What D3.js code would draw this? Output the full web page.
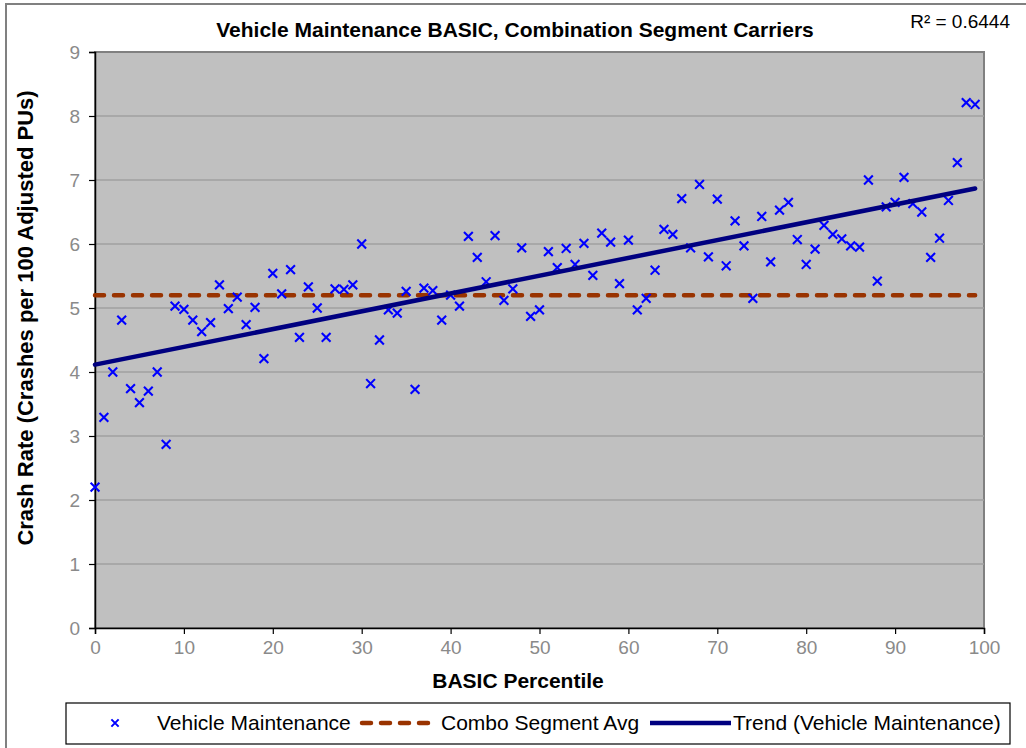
<!DOCTYPE html>
<html>
<head>
<meta charset="utf-8">
<script src="https://cdn.jsdelivr.net/npm/d3@7"></script>
<style>
  body { margin: 0; background: #fff; }
  svg { display: block; font-family: "Liberation Sans", Arial, sans-serif; }
</style>
</head>
<body>
<div id="chart"></div>
<script>
var percentiles = d3.range(0, 100);
var crashRates = [
  2.20, 3.29, 4.00, 4.81, 3.74, 3.52, 3.70, 4.00, 2.87, 5.03,
  4.98, 4.81, 4.63, 4.77, 5.36, 4.99, 5.17, 4.74, 5.01, 4.21,
  5.54, 5.22, 5.60, 4.54, 5.33, 5.00, 4.54, 5.30, 5.29, 5.36,
  6.00, 3.82, 4.50, 4.97, 4.92, 5.26, 3.73, 5.31, 5.27, 4.81,
  5.20, 5.03, 6.12, 5.79, 5.41, 6.13, 5.12, 5.30, 5.94, 4.87,
  4.97, 5.88, 5.63, 5.93, 5.68, 6.01, 5.51, 6.17, 6.03, 5.38,
  6.06, 4.97, 5.15, 5.59, 6.23, 6.15, 6.71, 5.94, 6.93, 5.80,
  6.70, 5.66, 6.36, 5.97, 5.15, 6.43, 5.72, 6.53, 6.65, 6.07,
  5.68, 5.92, 6.29, 6.15, 6.08, 5.97, 5.95, 7.00, 5.42, 6.58,
  6.65, 7.04, 6.63, 6.50, 5.79, 6.09, 6.68, 7.27, 8.21, 8.18
];
var comboSegmentAvg = 5.2;
var rSquared = 0.6444;
var xTicks = [0, 10, 20, 30, 40, 50, 60, 70, 80, 90, 100];
var yTicks = [0, 1, 2, 3, 4, 5, 6, 7, 8, 9];
var legendLabels = ["Vehicle Maintenance", "Combo Segment Avg", "Trend (Vehicle Maintenance)"];

var width = 1026, height = 748;
var plot = {left: 95, top: 52, right: 984, bottom: 628};

var points = percentiles.map(function(p, i) { return {x: p, y: crashRates[i]}; });

// least squares trend line
var mx = d3.mean(points, function(d) { return d.x; });
var my = d3.mean(points, function(d) { return d.y; });
var sxy = d3.sum(points, function(d) { return (d.x - mx) * (d.y - my); });
var sxx = d3.sum(points, function(d) { return (d.x - mx) * (d.x - mx); });
var slope = sxy / sxx, intercept = my - slope * mx;
var xMin = d3.min(percentiles), xMax = d3.max(percentiles);
var trend = [{x: xMin, y: intercept + slope * xMin}, {x: xMax, y: intercept + slope * xMax}];
var avgLine = [{x: xMin, y: comboSegmentAvg}, {x: xMax, y: comboSegmentAvg}];

var x = d3.scaleLinear().domain([0, 100]).range([plot.left, plot.right]);
var y = d3.scaleLinear().domain([0, 9]).range([plot.bottom, plot.top]);

var svg = d3.select("#chart").append("svg")
    .attr("width", width)
    .attr("height", height);

// outer chart border
svg.append("rect")
    .attr("x", 6).attr("y", 4)
    .attr("width", width + 10).attr("height", height + 10)
    .attr("fill", "#fff")
    .attr("stroke", "#808080")
    .attr("stroke-width", 2);

// plot background
svg.append("rect")
    .attr("x", plot.left).attr("y", plot.top)
    .attr("width", plot.right - plot.left).attr("height", plot.bottom - plot.top)
    .attr("fill", "#c0c0c0")
    .attr("stroke", "#808080")
    .attr("stroke-width", 2);

// gridlines
svg.append("g").selectAll("line")
    .data(yTicks.filter(function(t) { return t > 0 && t < 9; }))
    .enter().append("line")
    .attr("x1", plot.left).attr("x2", plot.right)
    .attr("y1", function(d) { return y(d); })
    .attr("y2", function(d) { return y(d); })
    .attr("stroke", "#a0a0a0")
    .attr("stroke-width", 1.5);

// axes
var yAxis = svg.append("g")
    .attr("transform", "translate(" + plot.left + ",0)")
    .call(d3.axisLeft(y).tickValues(yTicks).tickSize(6).tickPadding(9).tickFormat(d3.format("d")));
var xAxis = svg.append("g")
    .attr("transform", "translate(0," + plot.bottom + ")")
    .call(d3.axisBottom(x).tickValues(xTicks).tickSize(6).tickPadding(5).tickFormat(d3.format("d")));

[yAxis, xAxis].forEach(function(ax) {
  ax.select(".domain").attr("stroke", "#000").attr("stroke-width", 1.5);
  ax.selectAll(".tick line").attr("stroke", "#000").attr("stroke-width", 1.2);
  ax.selectAll(".tick text")
      .attr("fill", "#8a8a8a")
      .style("font-size", "19px")
      .style("font-family", "'Liberation Sans', Arial, sans-serif");
});
xAxis.selectAll(".tick text").attr("dy", "0.8em");

// combo segment average (dashed)
var line = d3.line()
    .x(function(d) { return x(d.x); })
    .y(function(d) { return y(d.y); });

svg.append("path")
    .attr("d", line(avgLine))
    .attr("fill", "none")
    .attr("stroke", "#993300")
    .attr("stroke-width", 4.5)
    .attr("stroke-linecap", "round")
    .attr("stroke-dasharray", "9,10");

// points
var marker = d3.symbol().type(d3.symbolX).size(52);
svg.append("g").selectAll("path")
    .data(points)
    .enter().append("path")
    .attr("transform", function(d) { return "translate(" + x(d.x) + "," + y(d.y) + ")"; })
    .attr("d", marker)
    .attr("fill", "none")
    .attr("stroke", "#0000ff")
    .attr("stroke-width", 2.1);

// trend
svg.append("path")
    .attr("d", line(trend))
    .attr("fill", "none")
    .attr("stroke", "#000080")
    .attr("stroke-width", 4.5)
    .attr("stroke-linecap", "round");

// titles
svg.append("text")
    .attr("x", 515).attr("y", 37)
    .attr("text-anchor", "middle")
    .style("font-size", "21px").style("font-weight", "bold")
    .text("Vehicle Maintenance BASIC, Combination Segment Carriers");

svg.append("text")
    .attr("x", 1010).attr("y", 28)
    .attr("text-anchor", "end")
    .style("font-size", "19px")
    .text("R\u00b2 = " + rSquared.toFixed(4));

svg.append("text")
    .attr("x", 518).attr("y", 688)
    .attr("text-anchor", "middle")
    .style("font-size", "21px").style("font-weight", "bold")
    .text("BASIC Percentile");

svg.append("text")
    .attr("transform", "translate(33,318) rotate(-90)")
    .attr("text-anchor", "middle")
    .style("font-size", "22px").style("font-weight", "bold")
    .text("Crash Rate (Crashes per 100 Adjusted PUs)");

// legend
var legend = svg.append("g");
legend.append("rect")
    .attr("x", 66).attr("y", 703)
    .attr("width", 944).attr("height", 41)
    .attr("fill", "#fff")
    .attr("stroke", "#000")
    .attr("stroke-width", 1.2);

var ly = 723;
legend.append("path")
    .attr("transform", "translate(115," + ly + ")")
    .attr("d", d3.symbol().type(d3.symbolX).size(36))
    .attr("fill", "none").attr("stroke", "#0000ff").attr("stroke-width", 2);
legend.append("text").attr("x", 157).attr("y", ly + 7)
    .style("font-size", "21px").text(legendLabels[0]);

legend.append("line")
    .attr("x1", 362).attr("x2", 437).attr("y1", ly).attr("y2", ly)
    .attr("stroke", "#993300").attr("stroke-width", 4.5)
    .attr("stroke-linecap", "round").attr("stroke-dasharray", "9,10");
legend.append("text").attr("x", 441).attr("y", ly + 7)
    .style("font-size", "21px").text(legendLabels[1]);

legend.append("line")
    .attr("x1", 650).attr("x2", 731).attr("y1", ly).attr("y2", ly)
    .attr("stroke", "#000080").attr("stroke-width", 4.5);
legend.append("text").attr("x", 733).attr("y", ly + 7)
    .style("font-size", "21px").text(legendLabels[2]);
</script>
</body>
</html>
